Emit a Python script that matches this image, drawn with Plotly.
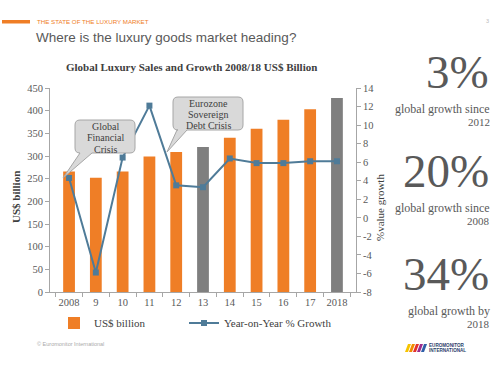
import plotly.graph_objects as go

# ---- data ----
years = ["2008", "9", "10", "11", "12", "13", "14", "15", "16", "17", "2018"]
sales = [266, 252, 266, 299, 309, 320, 340, 360, 380, 403, 428]
growth = [4.3, -5.9, 6.5, 12.1, 3.5, 3.3, 6.4, 5.9, 5.9, 6.1, 6.1]
highlight_years = ["13", "2018"]
left_ticks = list(range(0, 451, 50))
right_ticks = list(range(-8, 15, 2))
right_tick_labels = [str(v) for v in right_ticks]
stats = [("3%", "global growth since", "2012"),
         ("20%", "global growth since", "2008"),
         ("34%", "global growth by", "2018")]

ORANGE = "#EF7E26"
GREY_BAR = "#7F7F7F"
LINE = "#4F7B98"
SERIF = "Liberation Serif, Georgia, serif"
SANS = "Liberation Sans, Arial, sans-serif"
TXT = "#595959"

# plot area in pixels
L, R, T, B = 50, 356, 88, 292
W, H = 500, 376


def px(x):
    return (x - L) / (R - L)


def py(y):
    return (B - y) / (B - T)


bar_colors = [GREY_BAR if y in highlight_years else ORANGE for y in years]

fig = go.Figure()
fig.add_trace(go.Bar(x=years, y=sales, name="US$ billion",
                     marker=dict(color=bar_colors, line=dict(width=0)),
                     yaxis="y", legend="legend"))
fig.add_trace(go.Scatter(x=years, y=growth, name="Year-on-Year % Growth",
                         mode="lines+markers", yaxis="y2", legend="legend2",
                         line=dict(color=LINE, width=2),
                         marker=dict(symbol="square", size=6, color=LINE)))

axis_font = dict(family=SERIF, size=10.5, color=TXT)
leg_font = dict(family=SERIF, size=11, color="#404040")
fig.update_layout(
    width=W, height=H,
    margin=dict(l=L, r=W - R, t=T, b=H - B, pad=0),
    paper_bgcolor="white", plot_bgcolor="white",
    bargap=0.56,
    showlegend=True,
    legend=dict(orientation="h", x=px(54), xanchor="left", y=py(323), yanchor="middle",
                font=leg_font, bgcolor="rgba(0,0,0,0)", itemclick=False),
    legend2=dict(orientation="h", x=px(184), xanchor="left", y=py(323), yanchor="middle",
                 font=leg_font, bgcolor="rgba(0,0,0,0)", itemclick=False),
    xaxis=dict(type="category", showline=True, linecolor="#A6A6A6", linewidth=1,
               ticks="outside", tickson="boundaries", ticklen=4, tickcolor="#A6A6A6",
               tickfont=axis_font, tickangle=0, showgrid=False, zeroline=False),
    yaxis=dict(range=[0, 450], tickvals=left_ticks, showline=True, linecolor="#A6A6A6",
               ticks="outside", ticklen=4, tickcolor="#A6A6A6", tickfont=axis_font,
               showgrid=False, zeroline=False),
    yaxis2=dict(range=[-8, 14], tickvals=right_ticks, ticktext=right_tick_labels,
                overlaying="y", side="right", showline=True, linecolor="#A6A6A6",
                ticks="outside", ticklen=4, tickcolor="#A6A6A6", tickfont=axis_font,
                showgrid=False, zeroline=False),
)

ann = []
shapes = []

# header
shapes.append(dict(type="rect", xref="paper", yref="paper",
                   x0=px(2), x1=px(30), y0=py(20), y1=py(23.5),
                   fillcolor=ORANGE, line=dict(width=0)))
ann.append(dict(text="THE STATE OF THE LUXURY MARKET", x=px(35), y=py(21.8),
                xanchor="left", yanchor="middle",
                font=dict(family=SANS, size=6.2, color=ORANGE)))
ann.append(dict(text="Where is the luxury goods market heading?", x=px(34), y=py(37),
                xanchor="left", yanchor="middle",
                font=dict(family=SANS, size=13.5, color=TXT)))
ann.append(dict(text="3", x=px(487), y=py(21), xanchor="center", yanchor="middle",
                font=dict(family=SANS, size=5.5, color="#BBBBBB")))

# chart title
ann.append(dict(text="<b>Global Luxury Sales and Growth 2008/18 US$ Billion</b>",
                x=px(191), y=py(67), xanchor="center", yanchor="middle",
                font=dict(family=SERIF, size=11, color="#404040")))

# axis titles
ann.append(dict(text="<b>US$ billion</b>", x=px(16), y=py(197), textangle=-90,
                xanchor="center", yanchor="middle",
                font=dict(family=SERIF, size=11, color="#404040")))
ann.append(dict(text="%value growth", x=px(380), y=py(208), textangle=-90,
                xanchor="center", yanchor="middle",
                font=dict(family=SERIF, size=11, color="#404040")))


def callout(x0, y0, x1, y1, r, tb0, tb1, tip):
    pts = [
        f"M{px(x0 + r)},{py(y0)}",
        f"L{px(x1 - r)},{py(y0)}",
        f"Q{px(x1)},{py(y0)} {px(x1)},{py(y0 + r)}",
        f"L{px(x1)},{py(y1 - r)}",
        f"Q{px(x1)},{py(y1)} {px(x1 - r)},{py(y1)}",
        f"L{px(tb1)},{py(y1)}",
        f"L{px(tip[0])},{py(tip[1])}",
        f"L{px(tb0)},{py(y1)}",
        f"L{px(x0 + r)},{py(y1)}",
        f"Q{px(x0)},{py(y1)} {px(x0)},{py(y1 - r)}",
        f"L{px(x0)},{py(y0 + r)}",
        f"Q{px(x0)},{py(y0)} {px(x0 + r)},{py(y0)}",
        "Z",
    ]
    return dict(type="path", xref="paper", yref="paper", path=" ".join(pts),
                fillcolor="#D9D9D9", line=dict(color="#A6A6A6", width=1), layer="above")


shapes.append(callout(75, 120, 135, 153, 5, 80, 92, (63, 178)))
shapes.append(callout(173, 97, 243, 130, 5, 177, 187, (167, 152)))
for txt, yy in zip(["Global", "Financial", "Crisis"], [126, 137.7, 149.3]):
    ann.append(dict(text=txt, x=px(105), y=py(yy), xanchor="center", yanchor="middle",
                    font=dict(family=SERIF, size=10, color="#404040")))
for txt, yy in zip(["Eurozone", "Sovereign", "Debt Crisis"], [103, 114.3, 125.6]):
    ann.append(dict(text=txt, x=px(208), y=py(yy), xanchor="center", yanchor="middle",
                    font=dict(family=SERIF, size=10, color="#404040")))

# right-hand statistics
big_y = [78, 177, 280]
for (big, l1, l2), yc in zip(stats, big_y):
    ann.append(dict(text=big, x=px(491), y=py(yc - 6), xanchor="right", yanchor="middle",
                    font=dict(family=SERIF, size=47, color=TXT)))
    ann.append(dict(text=l1, x=px(492), y=py(yc + 31), xanchor="right", yanchor="middle",
                    font=dict(family=SERIF, size=12, color=TXT)))
    ann.append(dict(text=l2, x=px(492), y=py(yc + 44), xanchor="right", yanchor="middle",
                    font=dict(family=SERIF, size=11, color=TXT)))

# footer
ann.append(dict(text="© Euromonitor International", x=px(35), y=py(344),
                xanchor="left", yanchor="middle",
                font=dict(family=SANS, size=5.5, color="#AAAAAA")))
stripe_cols = ["#F6C400", "#F28C00", "#E4322B", "#9B2C8E", "#2F5FA8"]
for i, c in enumerate(stripe_cols):
    x0 = 405 + i * 4
    shapes.append(dict(type="path", xref="paper", yref="paper",
                       path=f"M{px(x0)},{py(352)} L{px(x0 + 3)},{py(352)} "
                            f"L{px(x0 + 6)},{py(344)} L{px(x0 + 3)},{py(344)} Z",
                       fillcolor=c, line=dict(width=0)))
ann.append(dict(text="<b>EUROMONITOR</b>", x=px(427), y=py(345.5), xanchor="left",
                yanchor="middle", font=dict(family=SANS, size=4.6, color="#2B3E6B")))
ann.append(dict(text="<b>INTERNATIONAL</b>", x=px(427), y=py(350.5), xanchor="left",
                yanchor="middle", font=dict(family=SANS, size=4.6, color="#2B3E6B")))

for a in ann:
    a.setdefault("xref", "paper")
    a.setdefault("yref", "paper")
    a.setdefault("showarrow", False)

fig.update_layout(annotations=ann, shapes=shapes)
fig.write_html("out.html", config={"displayModeBar": False},
               post_script="document.body.style.margin='0';document.body.style.padding='0';")
